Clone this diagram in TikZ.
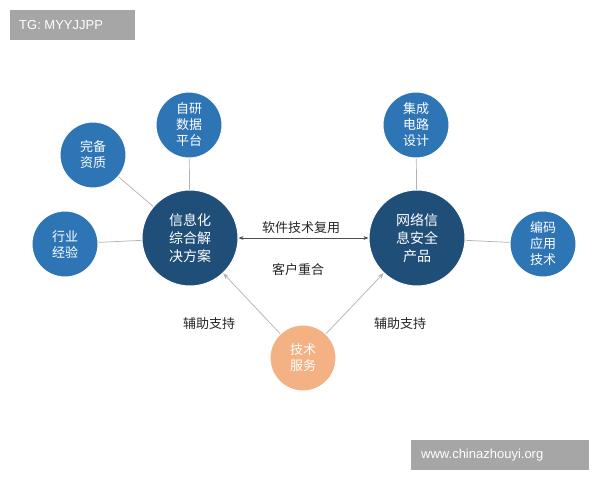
\documentclass[tikz,border=0pt]{standalone}
\usepackage{fontspec}
\setmainfont{Noto Sans CJK SC}
\usetikzlibrary{arrows.meta}
\definecolor{dk}{HTML}{1F4E79}
\definecolor{md}{HTML}{2E75B6}
\definecolor{og}{HTML}{F4B183}
\definecolor{gb}{HTML}{A6A6A6}
\tikzset{
 big/.style={circle,fill=dk,draw=white,line width=1pt,minimum size=96pt,inner sep=0pt,text=white,align=center,font=\fontsize{14}{18}\selectfont},
 sm/.style={circle,fill=md,draw=white,line width=1pt,minimum size=66pt,inner sep=0pt,text=white,align=center,font=\fontsize{13}{16}\selectfont},
 orn/.style={sm,fill=og},
 ln/.style={draw=gray!60,line width=0.7pt},
 lab/.style={font=\fontsize{13}{15}\selectfont,text=black!85},
 tag/.style={fill=gb,text=white,font=\fontsize{13}{15}\selectfont,anchor=north west,minimum height=30pt,inner sep=0pt,text height=10pt,text depth=2pt}
}
\begin{document}
\begin{tikzpicture}[x=1pt,y=-1pt]
\useasboundingbox[fill=white] (0,0) rectangle (600,480);
\fill[gb] (10,10) rectangle (135,40);
\node[anchor=west,text=white,font=\fontsize{13}{15}\selectfont\fontspec{Liberation Sans},inner sep=0pt] (tg) at (19,25) {TG: MYYJJPP};
\fill[gb] (411,440) rectangle (589,470);
\node[anchor=west,text=white,font=\fontsize{13}{15}\selectfont\fontspec{Liberation Sans},inner sep=0pt] (web) at (421,455) {www.chinazhouyi.org};
\node[big] (L) at (190,238) {信息化\\综合解\\决方案};
\node[big] (R) at (417,238) {网络信\\息安全\\产品};
\node[sm] (a) at (189,125) {自研\\数据\\平台};
\node[sm] (b) at (93,155) {完备\\资质};
\node[sm] (c) at (65,244) {行业\\经验};
\node[sm] (d) at (416,125) {集成\\电路\\设计};
\node[sm] (e) at (543,244) {编码\\应用\\技术};
\node[orn] (o) at (303,358) {技术\\服务};
\draw[ln] (a) -- (L);
\draw[ln] (b) -- (L);
\draw[ln] (c) -- (L);
\draw[ln] (d) -- (R);
\draw[ln] (e) -- (R);
\draw[ln,{Stealth[length=5pt]}-{Stealth[length=5pt]},draw=black!70] (L) -- (R);
\draw[ln,-{Stealth[length=6pt]}] (o) -- (L);
\draw[ln,-{Stealth[length=6pt]}] (o) -- (R);
\node[lab] (t1) at (301,228) {软件技术复用};
\node[lab] (t2) at (298,270) {客户重合};
\node[lab] (t3) at (209,324) {辅助支持};
\node[lab] (t4) at (400,324) {辅助支持};
\end{tikzpicture}
\end{document}
